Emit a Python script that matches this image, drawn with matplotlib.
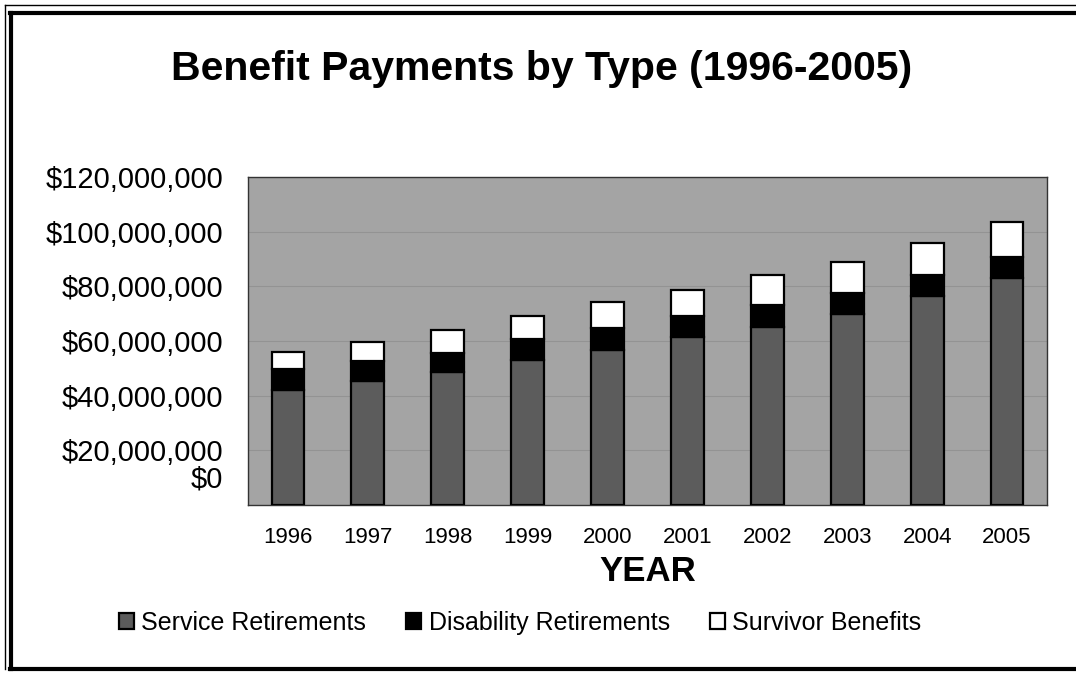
import matplotlib
matplotlib.use("Agg")
import matplotlib.pyplot as plt
import matplotlib.transforms as mtransforms
from matplotlib.lines import Line2D
from matplotlib.ticker import FuncFormatter

years = ["1996", "1997", "1998", "1999", "2000", "2001", "2002", "2003", "2004", "2005"]
service = [42.1, 45.5, 48.5, 53.1, 56.7, 61.6, 65.2, 69.9, 76.6, 82.9]   # $ millions
disability = [7.5, 7.2, 7.2, 7.6, 8.1, 7.6, 8.0, 7.8, 7.6, 7.7]
survivor = [6.5, 7.0, 8.2, 8.5, 9.6, 9.5, 10.8, 11.3, 11.8, 12.8]
series_labels = ["Service Retirements", "Disability Retirements", "Survivor Benefits"]
yticks = [0, 20, 40, 60, 80, 100, 120]

plt.rcParams['font.family'] = ['Liberation Sans', 'DejaVu Sans']

fig = plt.figure(figsize=(10.76, 6.73), dpi=100)
ax = fig.add_axes([248/1076, 1-505/673, (1047-248)/1076, (505-177)/673])
ax.set_facecolor('#a4a4a4')

x = list(range(len(years)))
w = 0.41
base2 = service
base3 = [s + d for s, d in zip(service, disability)]
b1 = ax.bar(x, service, w, color='#5c5c5c', edgecolor='black', linewidth=1.6,
            label=series_labels[0], zorder=3)
b2 = ax.bar(x, disability, w, bottom=base2, color='black', edgecolor='black',
            linewidth=1.6, label=series_labels[1], zorder=3)
b3 = ax.bar(x, survivor, w, bottom=base3, color='white', edgecolor='black',
            linewidth=1.6, label=series_labels[2], zorder=3)

ax.set_xlim(-0.5, len(years) - 0.5)
ax.set_ylim(0, 120)
ax.set_yticks(yticks)
ax.yaxis.set_major_formatter(FuncFormatter(lambda v, p: "${:,.0f}".format(v * 1e6)))
ax.set_xticks(x)
ax.set_xticklabels(years)
ax.tick_params(axis='y', length=0, pad=18, labelsize=21)
ax.tick_params(axis='x', length=0, pad=16, labelsize=16)
ax.grid(axis='y', color='#939393', linewidth=0.8, zorder=1)
for s in ax.spines.values():
    s.set_color('#333333')
    s.set_linewidth(1.0)

# $0 label sits higher in the reference
lbls = ax.get_yticklabels()
off = mtransforms.ScaledTranslation(0, 29/100, fig.dpi_scale_trans)
lbls[0].set_transform(lbls[0].get_transform() + off)

ax.set_xlabel("YEAR", fontsize=25, fontweight='bold', labelpad=5)

fig.text(542/1076, 1-69/673, "Benefit Payments by Type (1996-2005)",
         fontsize=29.5, fontweight='bold', ha='center', va='center')

leg = fig.legend(handles=[b1, b2, b3], labels=series_labels, loc='center',
                 bbox_to_anchor=(520/1076, 1-623/673), ncol=3, frameon=False,
                 fontsize=18, handlelength=0.6, handleheight=0.6,
                 handletextpad=0.3, columnspacing=1.6)

# figure frame
lines = [
    ([10/1076, 1], [1-13/673, 1-13/673], 3.0),
    ([5/1076, 1], [1-5/673, 1-5/673], 1.0),
    ([11/1076, 11/1076], [1-13/673, 1-669/673], 3.0),
    ([5/1076, 5/1076], [1-5/673, 1-669/673], 1.0),
    ([10/1076, 1], [1-669/673, 1-669/673], 3.0),
]
for xs, ys, lw in lines:
    fig.add_artist(Line2D(xs, ys, color='black', linewidth=lw, transform=fig.transFigure))

fig.savefig("out.png", dpi=100)
